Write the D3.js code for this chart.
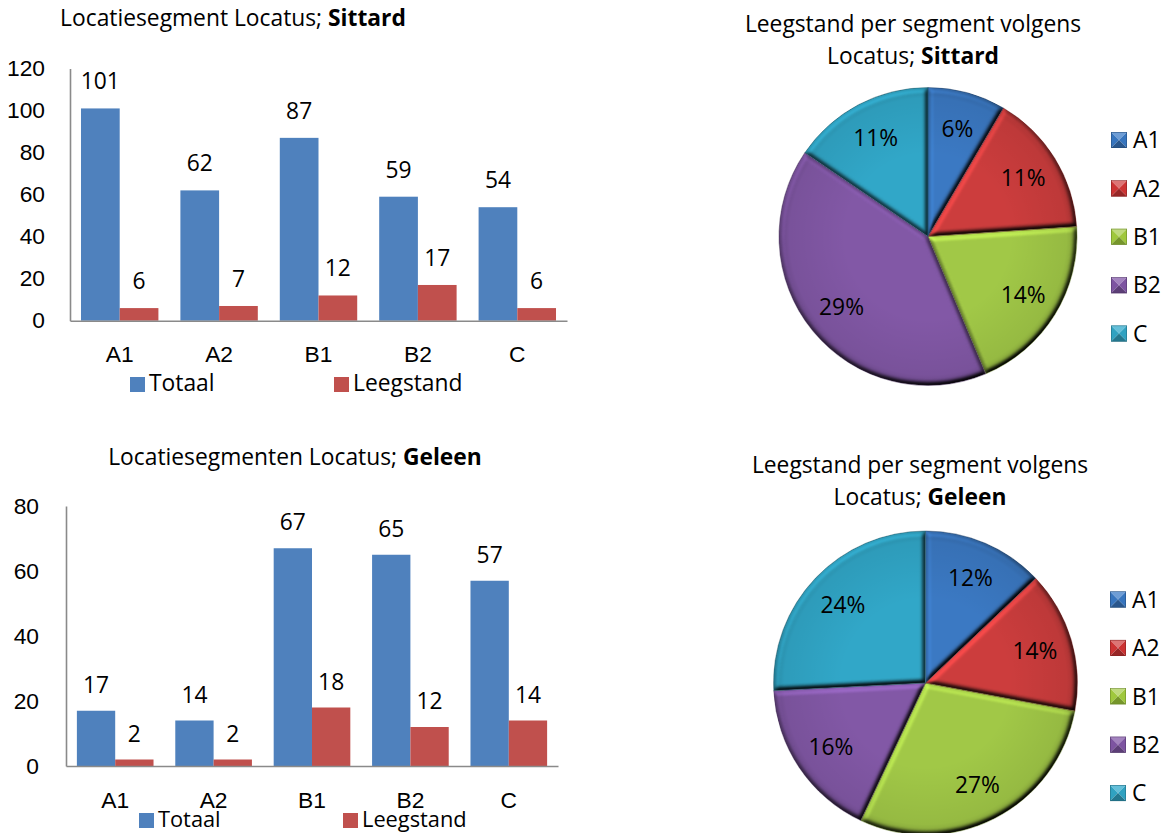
<!DOCTYPE html>
<html>
<head>
<meta charset="utf-8">
<script src="https://cdn.jsdelivr.net/npm/d3@7"></script>
<style>
  html, body { margin: 0; padding: 0; background: #fff; }
  svg { display: block; font-family: "Open Sans", Lato, sans-serif; }
</style>
</head>
<body>
<svg id="chart" width="1165" height="833"></svg>
<script>
// Segment categories and series
const categories = ["A1", "A2", "B1", "B2", "C"];
const seriesNames = ["Totaal", "Leegstand"];

// Sittard: total units and vacant units per segment
const sittardTotaal = [101, 62, 87, 59, 54];
const sittardLeegstand = [6, 7, 12, 17, 6];
const sittardTicks = [0, 20, 40, 60, 80, 100, 120];

// Geleen: total units and vacant units per segment
const geleenTotaal = [17, 14, 67, 65, 57];
const geleenLeegstand = [2, 2, 18, 12, 14];
const geleenTicks = [0, 20, 40, 60, 80];

// Vacancy percentage per segment (pie slices)
const sittardShare = [6, 11, 14, 29, 11];
const geleenShare = [12, 14, 27, 16, 24];

const barColors = { Totaal: "#4F81BD", Leegstand: "#C0504D" };
const sliceColors = ["#3C7BC6", "#CF3E3E", "#A4CB48", "#8459A9", "#32AACB"];

const FONT = 22.8;
const svg = d3.select("#chart");
const defs = svg.append("defs");

// Soft bevel used on the pie slices
const bevel = defs.append("filter")
  .attr("id", "bevel")
  .attr("x", "-3%").attr("y", "-3%").attr("width", "106%").attr("height", "106%")
  .attr("color-interpolation-filters", "sRGB");
bevel.append("feGaussianBlur").attr("in", "SourceAlpha").attr("stdDeviation", 2.8).attr("result", "blur");
bevel.append("feDiffuseLighting")
  .attr("in", "blur").attr("surfaceScale", 4.5).attr("diffuseConstant", 1)
  .attr("lighting-color", "#fff").attr("result", "light")
  .append("feDistantLight").attr("azimuth", 240).attr("elevation", 55);
bevel.append("feComposite")
  .attr("in", "SourceGraphic").attr("in2", "light").attr("operator", "arithmetic")
  .attr("k1", 1.2).attr("k2", 0).attr("k3", 0).attr("k4", 0).attr("result", "lit");
bevel.append("feComposite").attr("in", "lit").attr("in2", "SourceAlpha").attr("operator", "in");

function titleText(g, x, y, plain, bold) {
  const t = g.append("text")
    .attr("x", x).attr("y", y)
    .attr("text-anchor", "middle")
    .attr("font-size", FONT).attr("fill", "#000");
  t.append("tspan").text(plain);
  if (bold) t.append("tspan").attr("font-weight", "bold").text(bold);
  return t;
}

function barChart(cfg) {
  const g = svg.append("g");
  const x0 = d3.scaleBand().domain(categories).range([cfg.left, cfg.right]);
  const x1 = d3.scaleBand().domain(seriesNames).range([0, x0.bandwidth()]).paddingOuter(0.284);
  const y = d3.scaleLinear().domain([0, d3.max(cfg.ticks)]).range([cfg.bottom, cfg.top]);

  titleText(g, cfg.titleX, cfg.titleY, cfg.title, cfg.titleBold);

  const rows = categories.map((c, i) => ({
    c,
    vals: [
      { s: "Totaal", v: cfg.totaal[i] },
      { s: "Leegstand", v: cfg.leegstand[i] }
    ]
  }));

  const grp = g.selectAll("g.cat").data(rows).join("g")
    .attr("class", "cat")
    .attr("transform", d => `translate(${x0(d.c)},0)`);

  grp.selectAll("rect").data(d => d.vals).join("rect")
    .attr("x", d => x1(d.s))
    .attr("width", x1.bandwidth())
    .attr("y", d => y(d.v))
    .attr("height", d => y(0) - y(d.v))
    .attr("fill", d => barColors[d.s]);

  grp.selectAll("text.val").data(d => d.vals).join("text")
    .attr("class", "val")
    .attr("x", d => x1(d.s) + x1.bandwidth() / 2)
    .attr("y", d => y(d.v) - cfg.labelGap)
    .attr("text-anchor", "middle")
    .attr("font-size", FONT).attr("fill", "#000")
    .text(d => d.v);

  // Value axis
  const ya = g.append("g")
    .attr("transform", `translate(${cfg.left},0)`)
    .call(d3.axisLeft(y).tickValues(cfg.ticks).tickSize(0).tickSizeOuter(0).tickPadding(cfg.tickPad));
  ya.select(".domain").attr("stroke", "#8a8a8a").attr("stroke-width", 1.6);
  ya.selectAll(".tick text").attr("font-size", FONT).attr("font-family", null).attr("fill", "#000");

  // Category axis
  const xa = g.append("g")
    .attr("transform", `translate(0,${cfg.bottom})`)
    .call(d3.axisBottom(x0).tickSize(0).tickSizeOuter(0));
  xa.select(".domain").attr("stroke", "#8a8a8a").attr("stroke-width", 1.6);
  xa.selectAll(".tick text")
    .attr("font-size", FONT).attr("font-family", null).attr("fill", "#000")
    .attr("dy", null).attr("y", cfg.catOffset);

  // Legend
  const lg = g.selectAll("g.leg").data(seriesNames).join("g")
    .attr("class", "leg")
    .attr("transform", (d, i) => `translate(${cfg.legendX[i]},${cfg.legendY})`);
  lg.append("rect").attr("x", 0).attr("y", -15).attr("width", 15).attr("height", 15)
    .attr("fill", d => barColors[d]);
  lg.append("text").attr("x", 19).attr("y", -1)
    .attr("font-size", cfg.legendFont).attr("fill", "#000").text(d => d);
}

function shade(c, k) {
  const h = d3.hsl(c);
  h.l = Math.max(0, Math.min(1, h.l * k));
  return h.formatHex();
}

function pieChart(cfg) {
  const g = svg.append("g");
  titleText(g, cfg.titleX, cfg.titleY1, cfg.title1, null);
  titleText(g, cfg.titleX, cfg.titleY2, cfg.title2, cfg.titleBold);

  const data = categories.map((c, i) => ({ c, v: cfg.values[i], color: sliceColors[i] }));
  const arcs = d3.pie().sort(null).value(d => d.v)(data);
  const arc = d3.arc().innerRadius(0).outerRadius(cfg.r);
  const labelArc = d3.arc().innerRadius(cfg.r * 0.75).outerRadius(cfg.r * 0.75);

  const pg = g.append("g").attr("transform", `translate(${cfg.cx},${cfg.cy})`);

  const rimId = "rim-" + cfg.id;
  const rim = defs.append("radialGradient").attr("id", rimId)
    .attr("gradientUnits", "userSpaceOnUse").attr("cx", 0).attr("cy", 0).attr("r", cfg.r);
  rim.append("stop").attr("offset", "0.55").attr("stop-color", "#000").attr("stop-opacity", 0);
  rim.append("stop").attr("offset", "0.93").attr("stop-color", "#000").attr("stop-opacity", 0.07);
  rim.append("stop").attr("offset", "1").attr("stop-color", "#000").attr("stop-opacity", 0.2);

  pg.selectAll("path.slice").data(arcs).join("path")
    .attr("class", "slice")
    .attr("d", arc)
    .attr("fill", d => d.data.color)
    .attr("filter", "url(#bevel)");

  pg.append("circle").attr("r", cfg.r).attr("fill", `url(#${rimId})`);

  pg.selectAll("path.edge").data(arcs).join("path")
    .attr("class", "edge")
    .attr("d", arc)
    .attr("fill", "none")
    .attr("stroke", d => shade(d.data.color, 0.55))
    .attr("stroke-opacity", 0.6)
    .attr("stroke-width", 0.8);

  pg.selectAll("text").data(arcs).join("text")
    .attr("transform", d => `translate(${labelArc.centroid(d)})`)
    .attr("text-anchor", "middle")
    .attr("dy", "0.36em")
    .attr("font-size", FONT).attr("fill", "#000")
    .text(d => d.data.v + "%");

  // Legend with pyramid-style markers
  const lg = g.selectAll("g.leg").data(data).join("g")
    .attr("class", "leg")
    .attr("transform", (d, i) => `translate(${cfg.legendX},${cfg.legendY0 + i * cfg.legendStep})`);
  const s = 16, h = s / 2;
  const tri = [
    { p: [[0, 0], [s, 0], [h, h]], k: 1.25 },
    { p: [[0, 0], [0, s], [h, h]], k: 0.95 },
    { p: [[s, 0], [s, s], [h, h]], k: 0.95 },
    { p: [[0, s], [s, s], [h, h]], k: 0.7 }
  ];
  lg.each(function (d) {
    const el = d3.select(this);
    tri.forEach(t => {
      el.append("path")
        .attr("d", "M" + t.p.map(q => [q[0], q[1] - h].join(",")).join("L") + "Z")
        .attr("fill", shade(d.color, t.k));
    });
    el.append("rect").attr("x", 0.25).attr("y", -h + 0.25).attr("width", s - 0.5).attr("height", s - 0.5)
      .attr("fill", "none").attr("stroke", shade(d.color, 0.6)).attr("stroke-width", 0.5);
  });
  lg.append("text").attr("x", 22).attr("y", 0).attr("dy", "0.36em")
    .attr("font-size", FONT).attr("fill", "#000").text(d => d.c);
}

barChart({
  left: 70, right: 567, top: 68.5, bottom: 320.7,
  ticks: sittardTicks, totaal: sittardTotaal, leegstand: sittardLeegstand,
  title: "Locatiesegment Locatus; ", titleBold: "Sittard", titleX: 233, titleY: 26,
  labelGap: 19, tickPad: 25, catOffset: 41,
  legendX: [130, 334], legendY: 392, legendFont: FONT
});

barChart({
  left: 66, right: 558, top: 506, bottom: 766,
  ticks: geleenTicks, totaal: geleenTotaal, leegstand: geleenLeegstand,
  title: "Locatiesegmenten Locatus; ", titleBold: "Geleen", titleX: 295, titleY: 465,
  labelGap: 18, tickPad: 27, catOffset: 42,
  legendX: [139, 343], legendY: 828, legendFont: 21.8
});

pieChart({
  id: "sittard", values: sittardShare, cx: 928, cy: 236.5, r: 149,
  title1: "Leegstand per segment volgens", title2: "Locatus; ", titleBold: "Sittard",
  titleX: 913, titleY1: 32, titleY2: 64,
  legendX: 1111, legendY0: 140, legendStep: 48.4
});

pieChart({
  id: "geleen", values: geleenShare, cx: 925.5, cy: 683, r: 152,
  title1: "Leegstand per segment volgens", title2: "Locatus; ", titleBold: "Geleen",
  titleX: 920, titleY1: 473, titleY2: 505,
  legendX: 1110, legendY0: 599.5, legendStep: 48.4
});
</script>
</body>
</html>
